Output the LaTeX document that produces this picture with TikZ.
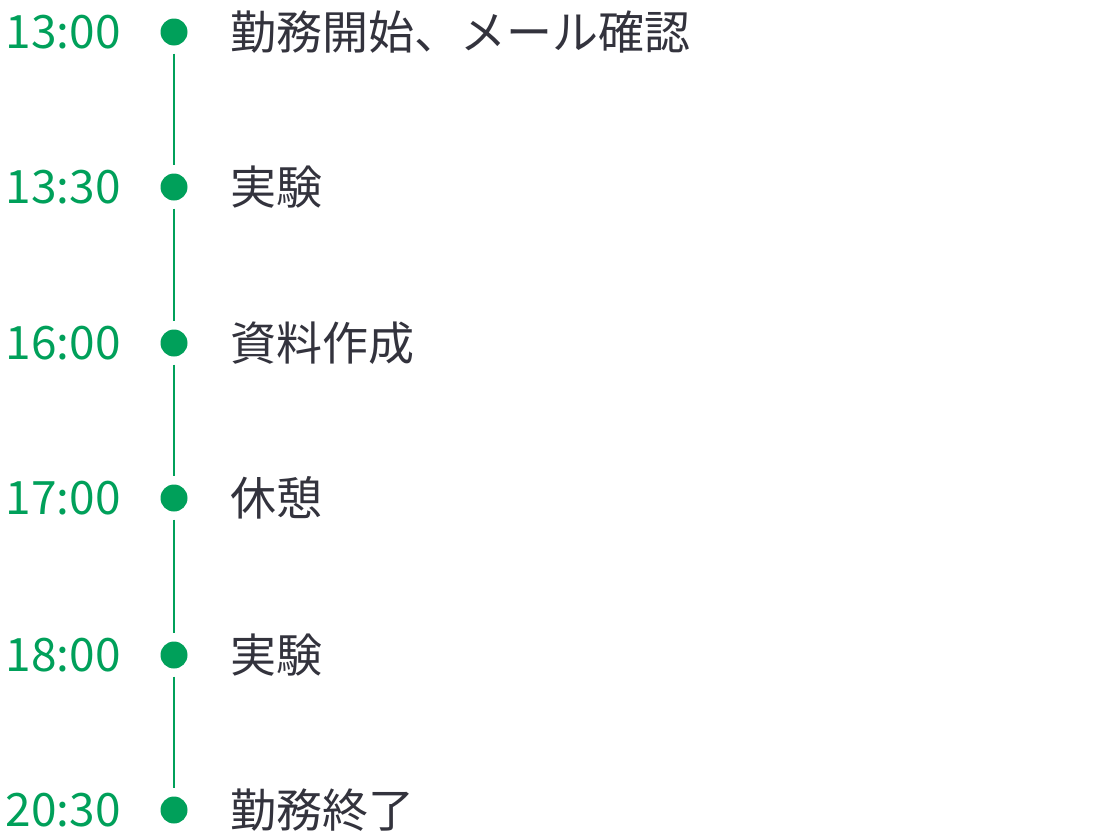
\documentclass[tikz,border=0pt]{standalone}
\usepackage{fontspec}
\setmainfont{Noto Sans CJK JP}
\definecolor{grn}{HTML}{00A05A}
\definecolor{txt}{HTML}{33333D}
\begin{document}
\begin{tikzpicture}[x=1pt,y=-1pt,
  dot/.style={circle,fill=grn,inner sep=0pt,minimum size=27pt},
  tm/.style={anchor=east,text=grn,font=\fontsize{46}{46}\selectfont,inner sep=0pt},
  ev/.style={anchor=west,text=txt,font=\fontsize{46}{46}\selectfont,inner sep=0pt},
  ln/.style={grn,line width=2pt,shorten <=8pt,shorten >=8pt}]
\useasboundingbox (0,0) rectangle (1120,838);
\foreach \n/\y/\t/\e in {1/32/13:00/勤務開始、メール確認,2/187/13:30/実験,3/343/16:00/資料作成,4/498/17:00/休憩,5/655/18:00/実験,6/810/20:30/勤務終了}{
  \node[dot] (d\n) at (174,\y) {};
  \node[tm] (t\n) at (121,\y) {\t};
  \node[ev] (e\n) at (230,\y) {\e};
}
\foreach \a/\b in {1/2,2/3,3/4,4/5,5/6} \draw[ln] (d\a) -- (d\b);
\end{tikzpicture}
\end{document}
